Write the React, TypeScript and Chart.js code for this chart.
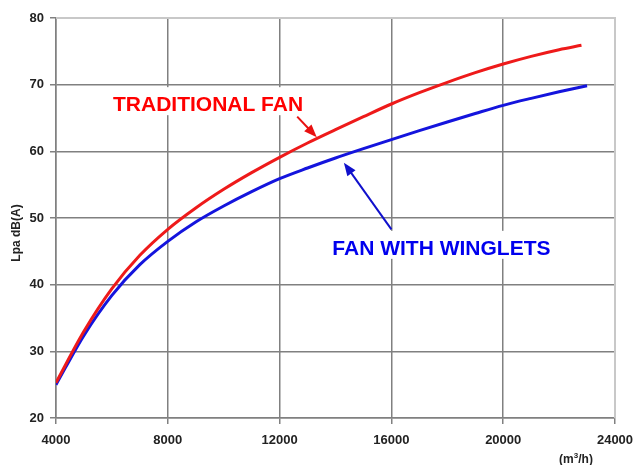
import React, { useEffect, useRef } from "react";
import { Chart, registerables } from "chart.js";

Chart.register(...registerables);

const traditionalX = [4000, 5000, 6000, 7000, 8000, 9000, 10000, 11000, 12000, 13000, 14000, 15000, 16000, 17000, 18000, 19000, 20000, 21000, 22000, 22800];
const traditionalY = [25.3, 33.0, 39.4, 44.4, 48.3, 51.5, 54.3, 56.8, 59.1, 61.25, 63.25, 65.2, 67.1, 68.8, 70.35, 71.8, 73.1, 74.25, 75.25, 75.9];

const wingletsX = [4000, 5000, 6000, 7000, 8000, 9000, 10000, 11000, 12000, 13000, 14000, 15000, 16000, 17000, 18000, 19000, 20000, 21000, 22000, 23000];
const wingletsY = [25.0, 32.4, 38.4, 43.0, 46.5, 49.4, 51.8, 53.95, 55.9, 57.5, 59.0, 60.4, 61.75, 63.1, 64.4, 65.67, 66.9, 67.95, 68.93, 69.85];

const xTicks = [4000, 8000, 12000, 16000, 20000, 24000];
const yTicks = [20, 30, 40, 50, 60, 70, 80];

const yTitle = "Lpa dB(A)";
const xUnit = ["(m", "3", "/h)"];

// annotations: label text, label anchor (data coords), arrow tail and tip (data coords)
const labelTraditional = { text: "TRADITIONAL FAN", x: 9440, y: 67.15, color: "#ff0000" };
const arrowTraditional = { from: [12630, 65.2], to: [13330, 62.1], color: "#e81010" };
const labelWinglets = { text: "FAN WITH WINGLETS", x: 17790, y: 45.6, color: "#0000ee" };
const arrowWinglets = { from: [16000, 48.3], to: [14300, 58.3], color: "#1010cc" };

const GRID = "#808080";
const LIGHT = "#c8c8c8";

function drawArrow(ctx: CanvasRenderingContext2D, x1: number, y1: number, x2: number, y2: number, color: string) {
  const ang = Math.atan2(y2 - y1, x2 - x1);
  const headLen = 13;
  const headW = 5;
  ctx.save();
  ctx.strokeStyle = color;
  ctx.fillStyle = color;
  ctx.lineWidth = 2;
  ctx.beginPath();
  ctx.moveTo(x1, y1);
  ctx.lineTo(x2 - Math.cos(ang) * headLen * 0.8, y2 - Math.sin(ang) * headLen * 0.8);
  ctx.stroke();
  const bx = x2 - Math.cos(ang) * headLen;
  const by = y2 - Math.sin(ang) * headLen;
  ctx.beginPath();
  ctx.moveTo(x2, y2);
  ctx.lineTo(bx + Math.sin(ang) * headW, by - Math.cos(ang) * headW);
  ctx.lineTo(bx - Math.sin(ang) * headW, by + Math.cos(ang) * headW);
  ctx.closePath();
  ctx.fill();
  ctx.restore();
}

const annotationPlugin = {
  id: "annotations",
  beforeDatasetsDraw(chart: any) {
    const { ctx, scales } = chart;
    const xs = scales.x;
    const ys = scales.y;
    const area = chart.chartArea;
    // light top/right border
    ctx.save();
    ctx.strokeStyle = LIGHT;
    ctx.lineWidth = 2;
    ctx.beginPath();
    ctx.moveTo(area.left, area.top);
    ctx.lineTo(area.right, area.top);
    ctx.lineTo(area.right, area.bottom);
    ctx.stroke();
    ctx.restore();

    ctx.save();
    ctx.font = "bold 21px 'Liberation Sans', Arial, sans-serif";
    ctx.textAlign = "center";
    ctx.textBaseline = "alphabetic";
    for (const lab of [labelTraditional, labelWinglets]) {
      const px = xs.getPixelForValue(lab.x);
      const py = ys.getPixelForValue(lab.y);
      const w = ctx.measureText(lab.text).width;
      const base = py + 7.5;
      ctx.fillStyle = "#ffffff";
      ctx.fillRect(px - w / 2 - 6, base - 24, w + 12, 28);
      ctx.fillStyle = lab.color;
      ctx.fillText(lab.text, px, base);
    }
    ctx.restore();

    for (const a of [arrowTraditional, arrowWinglets]) {
      drawArrow(
        ctx,
        xs.getPixelForValue(a.from[0]),
        ys.getPixelForValue(a.from[1]),
        xs.getPixelForValue(a.to[0]),
        ys.getPixelForValue(a.to[1]),
        a.color
      );
    }
  },
  afterDraw(chart: any) {
    const { ctx } = chart;
    const area = chart.chartArea;
    ctx.save();
    ctx.fillStyle = "#222222";
    // y title
    ctx.font = "bold 12px 'Liberation Sans', Arial, sans-serif";
    ctx.translate(17, (area.top + area.bottom) / 2 + 15);
    ctx.rotate(-Math.PI / 2);
    ctx.textAlign = "center";
    ctx.textBaseline = "middle";
    ctx.fillText(yTitle, 0, 0);
    ctx.restore();

    // x unit (m3/h)
    ctx.save();
    ctx.fillStyle = "#222222";
    ctx.textBaseline = "alphabetic";
    ctx.textAlign = "left";
    const big = "bold 12px 'Liberation Sans', Arial, sans-serif";
    const small = "bold 8px 'Liberation Sans', Arial, sans-serif";
    ctx.font = big;
    const w1 = ctx.measureText(xUnit[0]).width;
    const w3 = ctx.measureText(xUnit[2]).width;
    ctx.font = small;
    const w2 = ctx.measureText(xUnit[1]).width;
    const total = w1 + w2 + w3;
    const cx = area.right - 39;
    let x = cx - total / 2;
    const base = area.bottom + 45;
    ctx.font = big;
    ctx.fillText(xUnit[0], x, base);
    x += w1;
    ctx.font = small;
    ctx.fillText(xUnit[1], x, base - 5);
    x += w2;
    ctx.font = big;
    ctx.fillText(xUnit[2], x, base);
    ctx.restore();
  },
};

export default function App() {
  const ref = useRef<HTMLCanvasElement>(null);
  useEffect(() => {
    const canvas = ref.current!;
    const tickFont = { family: "'Liberation Sans', Arial, sans-serif", size: 13, weight: "bold" as const };
    const chart = new Chart(canvas, {
      type: "line",
      data: {
        datasets: [
          {
            label: labelTraditional.text,
            data: traditionalX.map((x, i) => ({ x, y: traditionalY[i] })),
            borderColor: "#ee1a1a",
            borderWidth: 3,
            pointRadius: 0,
            cubicInterpolationMode: "monotone",
            fill: false,
          },
          {
            label: labelWinglets.text,
            data: wingletsX.map((x, i) => ({ x, y: wingletsY[i] })),
            borderColor: "#1414dd",
            borderWidth: 3,
            pointRadius: 0,
            cubicInterpolationMode: "monotone",
            fill: false,
          },
        ],
      },
      options: {
        responsive: false,
        animation: false,
        devicePixelRatio: 1,
        layout: { padding: { top: 18, right: 19, left: 0, bottom: 0 } },
        plugins: { legend: { display: false }, tooltip: { enabled: false }, title: { display: false } },
        scales: {
          x: {
            type: "linear",
            min: xTicks[0],
            max: xTicks[xTicks.length - 1],
            afterBuildTicks: (s: any) => {
              s.ticks = xTicks.map((v) => ({ value: v }));
            },
            afterFit: (s: any) => {
              s.height = 47;
              s.paddingLeft = 0;
              s.paddingRight = 0;
            },
            ticks: {
              font: tickFont,
              color: "#222222",
              padding: 9,
              maxRotation: 0,
              callback: (v: any) => String(v),
            },
            grid: {
              color: (c: any) => (c.tick && c.tick.value === xTicks[xTicks.length - 1] ? LIGHT : GRID),
              lineWidth: 1.5,
              tickLength: 6,
              tickColor: GRID,
              drawTicks: true,
            },
            border: { display: true, color: GRID, width: 1.5 },
          },
          y: {
            type: "linear",
            min: yTicks[0],
            max: yTicks[yTicks.length - 1],
            afterBuildTicks: (s: any) => {
              s.ticks = yTicks.map((v) => ({ value: v }));
            },
            afterFit: (s: any) => {
              s.width = 56;
              s.paddingTop = 0;
              s.paddingBottom = 0;
            },
            ticks: {
              font: tickFont,
              color: "#222222",
              padding: 6,
              callback: (v: any) => String(v),
            },
            grid: {
              color: (c: any) => (c.tick && c.tick.value === yTicks[yTicks.length - 1] ? LIGHT : GRID),
              lineWidth: 1.5,
              tickLength: 6,
              tickColor: GRID,
              drawTicks: true,
            },
            border: { display: true, color: GRID, width: 1.5 },
          },
        },
      },
      plugins: [annotationPlugin],
    });
    return () => chart.destroy();
  }, []);
  return (
    <div style={{ position: "absolute", left: 0, top: 0, width: 634, height: 465, background: "#ffffff" }}>
      <canvas ref={ref} width={634} height={465} style={{ display: "block" }} />
    </div>
  );
}
